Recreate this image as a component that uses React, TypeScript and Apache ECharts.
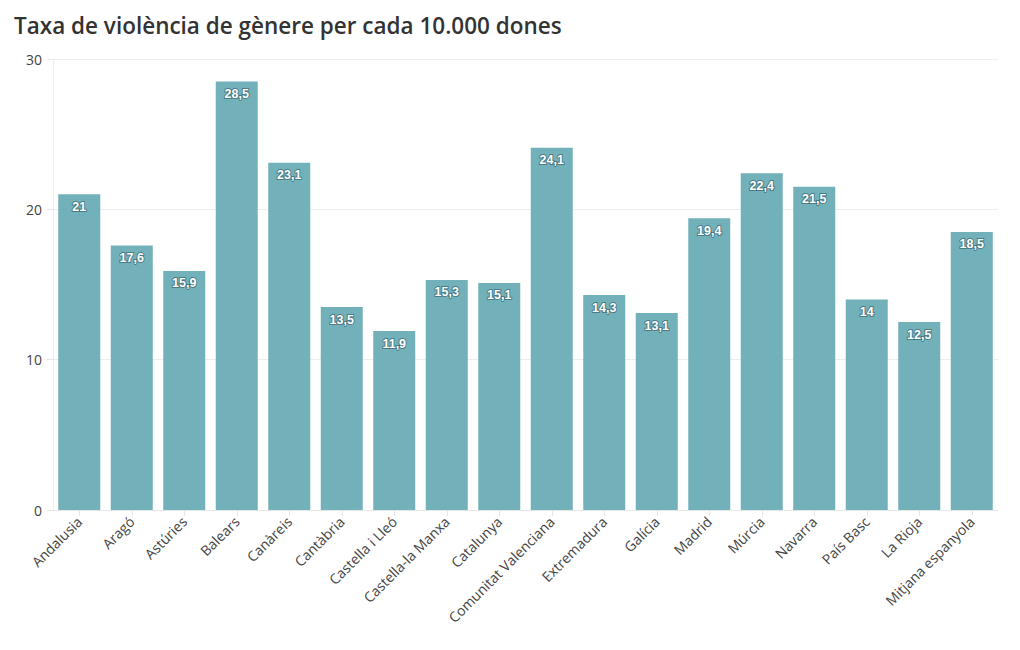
import React, { useEffect, useRef } from "react";
import * as echarts from "echarts";

const categories = [
  "Andalusia", "Aragó", "Astúries", "Balears", "Canàreis", "Cantàbria",
  "Castella i Lleó", "Castella-la Manxa", "Catalunya", "Comunitat Valenciana",
  "Extremadura", "Galícia", "Madrid", "Múrcia", "Navarra", "País Basc",
  "La Rioja", "Mitjana espanyola",
];
const values = [21, 17.6, 15.9, 28.5, 23.1, 13.5, 11.9, 15.3, 15.1, 24.1, 14.3, 13.1, 19.4, 22.4, 21.5, 14, 12.5, 18.5];
const titleText = "Taxa de violència de gènere per cada 10.000 dones";

export default function App() {
  const ref = useRef<HTMLDivElement>(null);
  useEffect(() => {
    document.body.style.margin = "0";
    const chart = echarts.init(ref.current!, null, { renderer: "svg" });
    chart.setOption({
      animation: false,
      title: {
        text: titleText,
        left: 9,
        top: 9,
        textStyle: { fontFamily: "Open Sans", fontWeight: 600, fontSize: 22.5, color: "#333" },
      },
      grid: { left: 53, right: 22, top: 59, bottom: 140 },
      xAxis: {
        type: "category",
        data: categories,
        axisLine: { show: true, lineStyle: { color: "#e6e6e6" } },
        axisTick: { show: true, alignWithLabel: true, length: 6, lineStyle: { color: "#e6e6e6" } },
        axisLabel: {
          rotate: 45,
          interval: 0,
          fontFamily: "Open Sans",
          fontSize: 14,
          color: "#444",
          margin: 9,
        },
      },
      yAxis: {
        type: "value",
        min: 0,
        max: 30,
        interval: 10,
        axisLine: { show: true, lineStyle: { color: "#eeeeee" } },
        axisTick: { show: true, length: 6, lineStyle: { color: "#e6e6e6" } },
        splitLine: { lineStyle: { color: "#eeeeee" } },
        axisLabel: { fontFamily: "Open Sans", fontSize: 14, color: "#444", margin: 11 },
      },
      series: [
        {
          type: "bar",
          data: values,
          barCategoryGap: "20%",
          itemStyle: { color: "#73b1ba" },
          label: {
            show: true,
            position: "insideTop",
            distance: 6,
            formatter: (p: any) => String(p.value).replace(".", ","),
            color: "#fff",
            fontFamily: "Liberation Sans",
            fontWeight: "bold",
            fontSize: 12.5,
            textBorderColor: "rgba(40,80,90,0.55)",
            textBorderWidth: 2,
          },
        },
      ],
    });
    return () => chart.dispose();
  }, []);
  return <div ref={ref} style={{ width: 1020, height: 650 }} />;
}
